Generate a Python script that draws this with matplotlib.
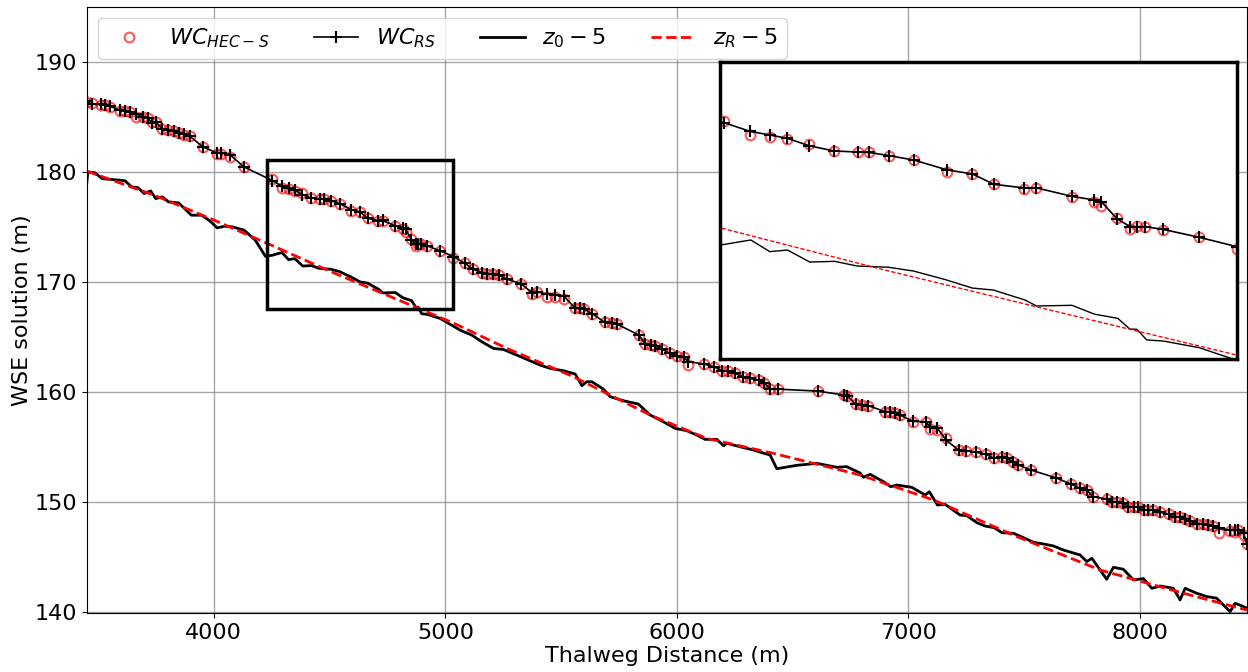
'''
WSE solution along the thalweg, with zoomed inset
'''

import numpy as np
import matplotlib.pyplot as plt
from matplotlib.patches import Rectangle

# water surface stations (m)
WC_X = [3451, 3474, 3511, 3529, 3551, 3595, 3617, 3639, 3665, 3694, 3716, 3731, 3749, 3778,
        3800, 3826, 3848, 3870, 3897, 3954, 4014, 4029, 4069, 4130, 4253, 4293, 4323, 4350,
        4383, 4421, 4457, 4474, 4505, 4543, 4594, 4632, 4665, 4711, 4729, 4784, 4818, 4829,
        4853, 4873, 4883, 4896, 4923, 4978, 5035, 5086, 5119, 5158, 5179, 5208, 5230, 5266,
        5326, 5374, 5398, 5438, 5474, 5513, 5561, 5582, 5600, 5633, 5690, 5719, 5741, 5837,
        5863, 5888, 5906, 5935, 5971, 6000, 6029, 6050, 6119, 6161, 6194, 6219, 6252, 6288,
        6314, 6353, 6377, 6403, 6435, 6608, 6723, 6737, 6773, 6799, 6828, 6900, 6921, 6943,
        6965, 7019, 7077, 7094, 7126, 7163, 7217, 7250, 7293, 7336, 7371, 7404, 7425, 7451,
        7476, 7530, 7637, 7702, 7742, 7771, 7797, 7857, 7879, 7900, 7929, 7951, 7973, 7991,
        8016, 8037, 8059, 8088, 8124, 8152, 8174, 8196, 8217, 8246, 8275, 8296, 8318, 8340,
        8390, 8412, 8426, 8448, 8462]

WC_RS = [186.40, 186.12, 186.12, 186.09, 185.94, 185.58, 185.52, 185.42, 185.25, 184.97,
         184.88, 184.42, 184.51, 183.90, 183.76, 183.70, 183.52, 183.40, 183.20, 182.24,
         181.70, 181.70, 181.55, 180.43, 179.19, 178.70, 178.50, 178.31, 177.90, 177.61,
         177.55, 177.53, 177.35, 177.10, 176.55, 176.33, 175.75, 175.55, 175.56, 175.08,
         174.88, 174.77, 173.82, 173.39, 173.39, 173.39, 173.24, 172.80, 172.28, 171.65,
         171.13, 170.83, 170.68, 170.65, 170.59, 170.22, 169.83, 169.01, 169.07, 168.86,
         168.77, 168.68, 167.56, 167.56, 167.50, 167.10, 166.29, 166.26, 166.14, 165.14,
         164.32, 164.23, 164.17, 163.87, 163.47, 163.26, 163.17, 162.72, 162.50, 162.26,
         161.90, 161.87, 161.65, 161.35, 161.20, 161.05, 160.81, 160.23, 160.23, 160.05,
         159.69, 159.63, 158.84, 158.78, 158.72, 158.17, 158.17, 158.02, 157.87, 157.30,
         157.26, 156.75, 156.66, 155.60, 154.69, 154.63, 154.48, 154.30, 153.93, 154.02,
         153.93, 153.63, 153.33, 152.87, 152.17, 151.60, 151.21, 151.06, 150.45, 150.24,
         150.00, 149.93, 149.84, 149.54, 149.54, 149.48, 149.24, 149.24, 149.24, 149.03,
         148.87, 148.57, 148.63, 148.42, 148.24, 147.97, 147.94, 147.88, 147.82, 147.57,
         147.42, 147.42, 147.42, 147.18, 146.15]

WC_HEC = [186.30, 186.20, 186.10, 186.10, 185.90, 185.50, 185.50, 185.40, 184.97, 185.00,
          184.90, 184.50, 184.50, 183.90, 183.80, 183.70, 183.50, 183.30, 183.20, 182.20,
          181.60, 181.60, 181.30, 180.40, 179.30, 178.52, 178.41, 178.28, 178.02, 177.61,
          177.55, 177.53, 177.35, 177.09, 176.42, 176.33, 175.79, 175.51, 175.53, 175.03,
          174.79, 174.54, 173.87, 173.24, 173.43, 173.39, 173.21, 172.80, 172.15, 171.65,
          171.13, 170.83, 170.68, 170.65, 170.59, 170.22, 169.83, 168.90, 169.07, 168.60,
          168.60, 168.38, 167.56, 167.56, 167.50, 167.10, 166.29, 166.26, 166.14, 165.14,
          164.32, 164.23, 164.17, 163.87, 163.47, 163.26, 163.17, 162.41, 162.50, 162.26,
          161.90, 161.87, 161.65, 161.35, 161.20, 161.05, 160.81, 160.23, 160.23, 160.05,
          159.69, 159.60, 158.84, 158.78, 158.72, 158.17, 158.17, 158.02, 157.87, 157.26,
          157.26, 156.60, 156.50, 155.80, 154.69, 154.63, 154.48, 154.30, 153.93, 154.02,
          153.93, 153.63, 153.33, 152.87, 152.17, 151.60, 151.21, 151.06, 150.45, 150.24,
          150.00, 149.93, 149.84, 149.54, 149.54, 149.48, 149.24, 149.24, 149.24, 149.03,
          148.87, 148.57, 148.63, 148.42, 148.24, 147.97, 147.94, 147.88, 147.82, 147.18,
          147.30, 147.20, 147.42, 147.00, 146.15]

# thalweg elevation minus 5 m
Z0_X = [3451, 3456, 3485, 3518, 3551, 3595, 3617, 3645, 3672, 3699, 3727, 3749, 3778, 3804,
        3848, 3903, 3947, 3985, 4014, 4047, 4080, 4131, 4179, 4223, 4253, 4294, 4323, 4350,
        4384, 4422, 4456, 4504, 4542, 4590, 4632, 4664, 4712, 4730, 4784, 4818, 4854, 4872,
        4883, 4898, 4923, 4978, 5035, 5064, 5114, 5158, 5208, 5251, 5309, 5359, 5410, 5453,
        5510, 5561, 5590, 5611, 5633, 5683, 5712, 5770, 5834, 5885, 5928, 5993, 6043, 6086,
        6122, 6173, 6202, 6216, 6273, 6331, 6403, 6432, 6518, 6605, 6691, 6734, 6792, 6806,
        6835, 6893, 6924, 6950, 7015, 7073, 7091, 7126, 7159, 7224, 7253, 7296, 7332, 7371,
        7404, 7454, 7497, 7541, 7584, 7627, 7670, 7742, 7771, 7793, 7857, 7886, 7929, 7973,
        8016, 8052, 8088, 8145, 8174, 8196, 8246, 8289, 8332, 8390, 8412, 8448, 8462]

Z0 = [178.92, 179.97, 179.91, 179.36, 179.30, 179.22, 179.16, 178.61, 178.55, 178.01,
      178.25, 177.55, 177.70, 177.25, 177.16, 176.04, 176.04, 175.49, 174.89, 175.04,
      174.98, 174.68, 173.77, 172.30, 172.40, 172.65, 172.00, 172.09, 171.42, 171.46,
      171.20, 171.13, 170.92, 170.45, 169.97, 169.86, 169.31, 168.97, 169.01, 168.52,
      168.28, 167.69, 167.67, 167.08, 167.02, 166.65, 165.95, 165.59, 165.14, 164.53,
      163.93, 163.83, 163.32, 162.87, 162.41, 162.11, 161.90, 161.60, 160.54, 160.90,
      160.90, 160.23, 159.54, 159.17, 158.87, 157.87, 157.42, 156.66, 156.45, 156.05,
      155.66, 155.66, 155.08, 155.30, 154.99, 154.69, 154.23, 152.99, 153.30, 153.48,
      153.12, 153.18, 152.60, 152.21, 152.48, 151.81, 151.36, 151.51, 151.30, 150.60,
      150.90, 149.69, 149.75, 148.78, 148.72, 148.09, 147.78, 147.63, 147.18, 147.12,
      146.73, 146.30, 146.15, 145.97, 145.60, 145.15, 144.55, 144.85, 142.94, 144.03,
      143.85, 142.88, 143.00, 142.12, 142.33, 142.12, 141.06, 142.12, 141.67, 141.37,
      141.22, 140.00, 140.76, 140.46, 140.31]

# regularised bed minus 5 m
ZR_X = [3451, 3750, 4000, 4250, 4500, 4750, 5035, 5266, 5554, 5885, 6129, 6417, 6792, 7109,
        7469, 7828, 8188, 8462]
ZR = [180.05, 177.80, 175.60, 173.30, 170.96, 168.75, 166.24, 163.93, 161.35, 157.87,
      155.75, 154.39, 152.42, 150.15, 146.82, 143.79, 141.67, 140.15]

# zoomed region
ZOOM_BOX_X = (4231, 5035)
ZOOM_BOX_Y = (167.5, 181.1)
INSET_XLIM = (4247, 5035)
INSET_YLIM = (166.0, 182.55)


def desenha(ax, lw_z, dash):
    ax.plot(WC_X, WC_HEC, linestyle='None', marker='o', markersize=7, markerfacecolor='none',
            markeredgecolor='red', markeredgewidth=1.5, alpha=0.65, label=r'$WC_{HEC-S}$')
    ax.plot(WC_X, WC_RS, color='black', linewidth=1.2, marker='+', markersize=9,
            markeredgewidth=1.5, label=r'$WC_{RS}$')
    ax.plot(Z0_X, Z0, color='black', linewidth=lw_z, label=r'$z_0 - 5$')
    ax.plot(ZR_X, ZR, color='red', linewidth=lw_z, linestyle=dash, label=r'$z_R - 5$')


fig = plt.figure(figsize=(12.48, 6.72), dpi=100)
ax = fig.add_axes([0.0695, 0.0874, 0.9295, 0.9027])

desenha(ax, 2, '--')
ax.set_xlim(3451, 8462)
ax.set_ylim(139.85, 195)
ax.set_xticks([4000, 5000, 6000, 7000, 8000])
ax.set_yticks([140, 150, 160, 170, 180, 190])
ax.tick_params(labelsize=16)
ax.set_xlabel('Thalweg Distance (m)', fontsize=16, labelpad=2)
ax.set_ylabel('WSE solution (m)', fontsize=16, labelpad=2)
ax.grid(color='gray', alpha=0.7, linewidth=1)
ax.set_axisbelow(True)
ax.legend(loc='upper left', ncol=4, fontsize=16)

ax.add_patch(Rectangle((ZOOM_BOX_X[0], ZOOM_BOX_Y[0]), ZOOM_BOX_X[1] - ZOOM_BOX_X[0],
                       ZOOM_BOX_Y[1] - ZOOM_BOX_Y[0], fill=False, edgecolor='black',
                       linewidth=2.5, zorder=5))

# inset
axin = fig.add_axes([0.5769, 0.4653, 0.4139, 0.442])
desenha(axin, 1, (0, (3, 1.5)))
axin.set_xlim(*INSET_XLIM)
axin.set_ylim(*INSET_YLIM)
axin.set_xticks([])
axin.set_yticks([])
for s in axin.spines.values():
    s.set_linewidth(2.5)

fig.savefig('out.png', dpi=100)
